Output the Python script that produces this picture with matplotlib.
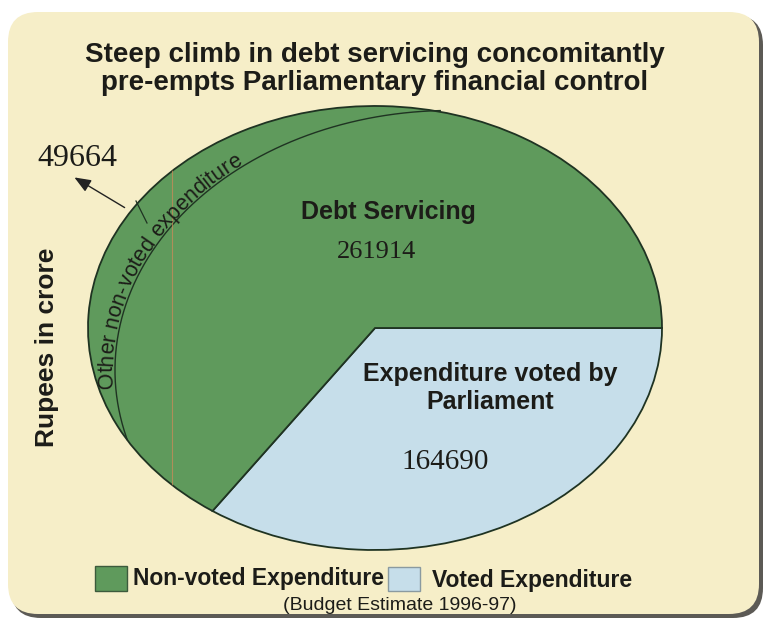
import numpy as np
import matplotlib
matplotlib.use('Agg')
import matplotlib.pyplot as plt
from matplotlib.patches import FancyBboxPatch, Rectangle
from matplotlib.font_manager import FontProperties

# Union budget 1996-97, rupees in crore
voted_exp = 164690
debt_servicing = 261914
other_nonvoted = 49664
shares = [voted_exp, debt_servicing + other_nonvoted]
share_names = ['Voted Expenditure', 'Non-voted Expenditure']

title = ('Steep climb in debt servicing concomitantly\n'
         'pre-empts Parliamentary financial control')
crescent_label = 'Other non-voted expenditure'
note = '(Budget Estimate 1996-97)'

GREEN = '#5f9a5c'
BLUE = '#c6deea'
CREAM = '#f6eec8'
EDGE = '#1f3322'
INK = '#1c1c18'

W, H = 765, 621
CX, CY, RX, RY = 375, 328, 287, 222   # ellipse centre / half-axes in px

fig = plt.figure(figsize=(W / 100, H / 100), dpi=100)
fig.patch.set_facecolor('white')

# card in pixel coordinates
bg = fig.add_axes([0, 0, 1, 1], zorder=0)
bg.set_xlim(0, W)
bg.set_ylim(H, 0)
bg.axis('off')
bg.add_patch(FancyBboxPatch((11, 15), 752, 603, boxstyle='round,pad=0,rounding_size=30',
                            fc='#5c5a55', ec='none'))
bg.add_patch(FancyBboxPatch((8, 12), 751, 602, boxstyle='round,pad=0,rounding_size=30',
                            fc=CREAM, ec='none'))

# pie axes: unit circle stretched to the ellipse
ax = fig.add_axes([0, 0, 1, 1], zorder=1)
wedges, _ = ax.pie(shares, colors=[BLUE, GREEN], startangle=0, counterclock=False,
                   wedgeprops=dict(edgecolor=EDGE, linewidth=1.3))
ax.set_aspect('auto')
ax.set_xlim(-CX / RX, (W - CX) / RX)
ax.set_ylim(-(H - CY) / RY, CY / RY)
ax.axis('off')
ax.patch.set_alpha(0)


def P(x, y):
    return (x - CX) / RX, (CY - y) / RY


# inner boundary of the "other non-voted" crescent
ic_x, ic_y, ic_r = 0.264, -0.19, 1.17
th = np.radians(np.linspace(91.8, 195.5, 200))
ax.plot(ic_x + ic_r * np.cos(th), ic_y + ic_r * np.sin(th), color=EDGE, lw=1.0)

# faint fold line across the green part
fx, _ = P(172, 0)
fold, = ax.plot([fx, fx], [-1.1, 1.1], color='#d08a5a', lw=0.8, alpha=0.7)
fold.set_clip_path(wedges[1])

# curved label along the crescent
prop = FontProperties(family='Liberation Sans', size=15.5)
renderer = fig.canvas.get_renderer()


def width(s):
    return renderer.get_text_width_height_descent(s + '|', prop, ismath=False)[0]


base = width('')
rr = ic_r + 0.008
tt = np.radians(np.linspace(184, 90, 3000))
px = CX + RX * (ic_x + rr * np.cos(tt))
py = (H - CY) + RY * (ic_y + rr * np.sin(tt))
arc = np.concatenate([[0], np.cumsum(np.hypot(np.diff(px), np.diff(py)))])
for i, ch in enumerate(crescent_label):
    if ch == ' ':
        continue
    d = (width(crescent_label[:i]) + width(crescent_label[:i + 1])) / 2 - base
    k = min(np.searchsorted(arc, d), len(arc) - 2)
    x = np.interp(d, arc, px)
    y = np.interp(d, arc, py)
    ang = np.degrees(np.arctan2(py[k + 1] - py[k], px[k + 1] - px[k]))
    ax.text((x - CX) / RX, (y - (H - CY)) / RY, ch, rotation=ang, rotation_mode='anchor',
            ha='center', va='baseline', fontproperties=prop, color=INK)

# pointer to the crescent value
ax.plot(*zip(P(136, 201), P(147, 223)), color=EDGE, lw=0.9)
ax.annotate('', xy=P(72, 176), xytext=P(127, 209),
            arrowprops=dict(arrowstyle='-|>,head_length=1.0,head_width=0.4',
                            color='#222', lw=1.0))


def ftxt(x, y, s, **kw):
    fig.text(x / W, 1 - y / H, s, **kw)


sans = 'Liberation Sans'
serif = 'Liberation Serif'
ftxt(375, 69, title, ha='center', va='center', fontsize=20, fontweight='bold',
     family=sans, color=INK, linespacing=1.15)
ftxt(47, 347, 'Rupees in crore', rotation=90, ha='center', va='center', fontsize=19,
     fontweight='bold', family=sans, color=INK)
ftxt(77, 159, f'{other_nonvoted}', ha='center', va='center', fontsize=23, family=serif, color=INK)
ftxt(388, 212, 'Debt Servicing', ha='center', va='center', fontsize=18, fontweight='bold',
     family=sans, color=INK)
ftxt(377, 252, f'{debt_servicing}', ha='center', va='center', fontsize=19, family=serif, color=INK)
ftxt(490, 388, 'Expenditure voted by\nParliament', ha='center', va='center', fontsize=18,
     fontweight='bold', family=sans, color=INK, linespacing=1.25)
ftxt(445, 462, f'{voted_exp}', ha='center', va='center', fontsize=21, family=serif, color=INK)

# legend
bg.add_patch(Rectangle((95, 566), 32, 25, fc=GREEN, ec='#3c5a3c', lw=1))
bg.add_patch(Rectangle((388, 567), 32, 24, fc=BLUE, ec='#8a9aa0', lw=1))
ftxt(133, 579, share_names[1], ha='left', va='center', fontsize=16.5, fontweight='bold',
     family=sans, color=INK)
ftxt(432, 580, share_names[0], ha='left', va='center', fontsize=16.5, fontweight='bold',
     family=sans, color=INK)
ftxt(400, 606, note, ha='center', va='center', fontsize=14, family=sans, color=INK)

fig.savefig('out.png', dpi=100, facecolor=fig.get_facecolor())
